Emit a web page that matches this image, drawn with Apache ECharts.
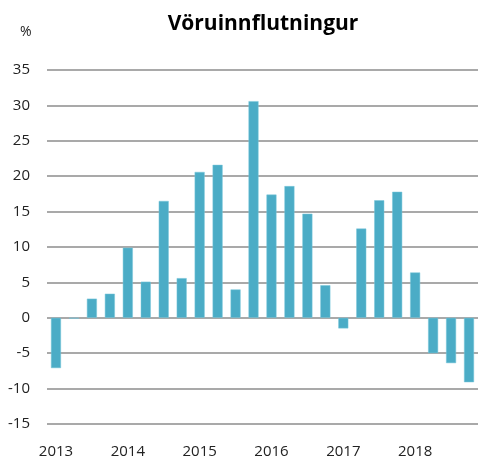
<!DOCTYPE html>
<html><head><meta charset="utf-8">
<script src="https://cdn.jsdelivr.net/npm/echarts@6/dist/echarts.min.js"></script>
<style>html,body{margin:0;padding:0;background:#fff}#c{width:491px;height:459px}</style>
</head><body><div id="c"></div>
<script>
const categories = ["2013Q1","2013Q2","2013Q3","2013Q4","2014Q1","2014Q2","2014Q3","2014Q4","2015Q1","2015Q2","2015Q3","2015Q4","2016Q1","2016Q2","2016Q3","2016Q4","2017Q1","2017Q2","2017Q3","2017Q4","2018Q1","2018Q2","2018Q3","2018Q4"];
const values = [-7.1,-0.1,2.7,3.4,9.9,5.1,16.5,5.6,20.6,21.6,4.0,30.6,17.4,18.6,14.7,4.6,-1.5,12.6,16.6,17.8,6.4,-5.0,-6.4,-9.1];
const yTicks = {min:-15, max:35, interval:5};
const titleText = "Vöruinnflutningur";
const unitText = "%";

const chart = echarts.init(document.getElementById('c'));
const font = "'Open Sans', 'Noto Sans', sans-serif";
chart.setOption({
  animation:false,
  textStyle:{fontFamily:font},
  title:[
    {text:titleText, left:258, top:9, textAlign:'center', textStyle:{fontFamily:font, fontSize:21, fontWeight:'bold', color:'#000'}},
    {text:unitText, left:15, top:20, textStyle:{fontFamily:font, fontSize:14, fontWeight:'normal', color:'#222'}}
  ],
  grid:{left:47, right:13, top:70, bottom:34, containLabel:false},
  xAxis:{type:'category', data:categories,
    axisLine:{show:false, onZero:false}, axisTick:{show:false},
    axisLabel:{interval:3, margin:20, fontSize:15, color:'#222', fontFamily:font,
      formatter:v=>v.slice(0,4)}},
  yAxis:{type:'value', min:yTicks.min, max:yTicks.max, interval:yTicks.interval,
    axisLine:{show:false}, axisTick:{show:false},
    axisLabel:{fontSize:15, color:'#222', margin:17, fontFamily:font},
    splitLine:{lineStyle:{color:'#8c8c8c', width:1.5}}},
  series:[{type:'bar', data:values, barWidth:10,
    itemStyle:{color:'#4BACC6', borderColor:'#79C6DA', borderWidth:0.5}}]
});
</script></body></html>
